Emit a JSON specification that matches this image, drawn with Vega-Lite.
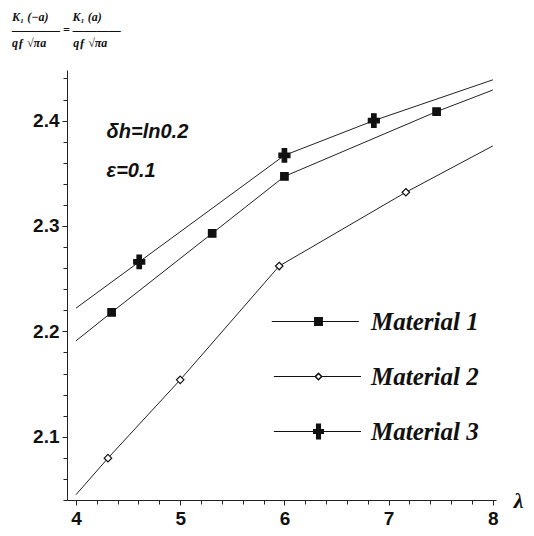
{
  "$schema": "https://vega.github.io/schema/vega-lite/v6.json",
  "width": 429,
  "height": 430,
  "autosize": {"type": "none"},
  "padding": {"left": 67, "top": 70, "right": 38, "bottom": 36},
  "background": "white",
  "config": {
    "view": {"stroke": null},
    "axis": {"grid": false, "domainColor": "#222", "tickColor": "#222", "labelColor": "#111", "labelFont": "Liberation Sans", "labelFontWeight": "bold", "labelFontSize": 19}
  },
  "title": {
    "text": ["\u00a0K\u2081 (\u2212a)\u00a0\u00a0\u00a0\u00a0\u00a0\u00a0\u00a0\u00a0K\u2081 (a)", "\u2014\u2014\u2014\u2014 = \u2014\u2014\u2014\u2014", "\u00a0\u00a0q\u0192 \u221a\u03c0a\u00a0\u00a0\u00a0\u00a0\u00a0\u00a0\u00a0\u00a0\u00a0q\u0192 \u221a\u03c0a"],
    "anchor": "start",
    "frame": "group",
    "align": "left",
    "dx": -55,
    "offset": 20,
    "font": "Liberation Serif",
    "fontSize": 12,
    "fontWeight": "bold",
    "fontStyle": "italic",
    "lineHeight": 13,
    "color": "#111"
  },
  "datasets": {
    "lines": [
      {"material": "Material 1", "lambda": 4.0, "k": 2.191},
      {"material": "Material 1", "lambda": 4.342, "k": 2.218},
      {"material": "Material 1", "lambda": 5.307, "k": 2.293},
      {"material": "Material 1", "lambda": 6.0, "k": 2.347},
      {"material": "Material 1", "lambda": 7.46, "k": 2.4085},
      {"material": "Material 1", "lambda": 8.0, "k": 2.429},
      {"material": "Material 2", "lambda": 4.0, "k": 2.045},
      {"material": "Material 2", "lambda": 4.307, "k": 2.0797},
      {"material": "Material 2", "lambda": 5.0, "k": 2.154},
      {"material": "Material 2", "lambda": 5.95, "k": 2.262},
      {"material": "Material 2", "lambda": 7.165, "k": 2.332},
      {"material": "Material 2", "lambda": 8.0, "k": 2.376},
      {"material": "Material 3", "lambda": 4.0, "k": 2.222},
      {"material": "Material 3", "lambda": 4.607, "k": 2.266},
      {"material": "Material 3", "lambda": 6.0, "k": 2.367},
      {"material": "Material 3", "lambda": 6.858, "k": 2.4},
      {"material": "Material 3", "lambda": 8.0, "k": 2.4387}
    ],
    "markers": [
      {"material": "Material 1", "lambda": 4.342, "k": 2.218},
      {"material": "Material 1", "lambda": 5.307, "k": 2.293},
      {"material": "Material 1", "lambda": 6.0, "k": 2.347},
      {"material": "Material 1", "lambda": 7.46, "k": 2.4085},
      {"material": "Material 2", "lambda": 4.307, "k": 2.0797},
      {"material": "Material 2", "lambda": 5.0, "k": 2.154},
      {"material": "Material 2", "lambda": 5.95, "k": 2.262},
      {"material": "Material 2", "lambda": 7.165, "k": 2.332},
      {"material": "Material 3", "lambda": 4.607, "k": 2.266},
      {"material": "Material 3", "lambda": 6.0, "k": 2.367},
      {"material": "Material 3", "lambda": 6.858, "k": 2.4}
    ],
    "notes": [
      {"label": "\u03b4h=ln0.2", "lambda": 4.294, "k": 2.3894},
      {"label": "\u03b5=0.1", "lambda": 4.294, "k": 2.352}
    ]
  },
  "layer": [
    {
      "data": {"name": "lines"},
      "mark": {"type": "line", "color": "#222", "strokeWidth": 1},
      "encoding": {
        "x": {"field": "lambda", "type": "quantitative", "scale": {"domain": [3.914, 8.03], "nice": false, "zero": false},
              "axis": {"orient": "bottom", "values": [4.2, 4.4, 4.6, 4.8, 5.2, 5.4, 5.6, 5.8, 6.2, 6.4, 6.6, 6.8, 7.2, 7.4, 7.6, 7.8], "labels": false, "tickSize": 4, "domain": true, "title": null}},
        "y": {"field": "k", "type": "quantitative", "scale": {"domain": [2.04, 2.448], "nice": false, "zero": false},
              "axis": {"orient": "left", "values": [2.04, 2.06, 2.08, 2.12, 2.14, 2.16, 2.18, 2.22, 2.24, 2.26, 2.28, 2.32, 2.34, 2.36, 2.38, 2.42, 2.44], "labels": false, "tickSize": 4, "domain": true, "title": null}},
        "detail": {"field": "material", "type": "nominal"}
      }
    },
    {
      "data": {"name": "markers"},
      "mark": {"type": "point", "filled": true, "stroke": "#111", "strokeWidth": 1.2, "opacity": 1, "size": 100},
      "encoding": {
        "x": {"field": "lambda", "type": "quantitative",
              "axis": {"orient": "bottom", "values": [4, 5, 6, 7, 8], "tickSize": 5, "labelPadding": 4, "domain": false, "title": "\u03bb", "titleX": 451, "titleY": 0, "titleBaseline": "middle", "titleAlign": "center", "titleFont": "Liberation Serif", "titleFontSize": 22, "titleFontStyle": "italic", "titleFontWeight": "bold", "titleColor": "#111"}},
        "y": {"field": "k", "type": "quantitative",
              "axis": {"orient": "left", "values": [2.1, 2.2, 2.3, 2.4], "format": ".1f", "tickSize": 5, "labelPadding": 3, "domain": false, "title": null}},
        "shape": {"field": "material", "type": "nominal",
                  "scale": {"domain": ["Material 1", "Material 2", "Material 3"],
                            "range": ["M-0.75,-0.75H0.75V0.75H-0.75Z", "M0,-0.75L0.75,0L0,0.75L-0.75,0Z", "M-0.45,-1.35H0.45V-0.45H1.1V0.45H0.45V1.35H-0.45V0.45H-1.1V-0.45H-0.45Z"]},
                  "legend": null},
        "fill": {"field": "material", "type": "nominal",
                 "scale": {"domain": ["Material 1", "Material 2", "Material 3"], "range": ["#111", "#ffffff", "#111"]},
                 "legend": null}
      }
    },
    {
      "data": {"name": "lines"},
      "mark": {"type": "point", "filled": true, "color": "#111", "opacity": 0},
      "encoding": {
        "x": {"field": "lambda", "type": "quantitative", "axis": null},
        "y": {"field": "k", "type": "quantitative", "axis": null},
        "shape": {"field": "material", "type": "nominal",
                  "scale": {"domain": ["Material 1", "Material 2", "Material 3"],
                            "range": ["M-2.2,-0.026H1.9V0.026H-2.2ZM-0.21,-0.21H0.21V0.21H-0.21Z", "M-2.1,-0.026H-0.17V0.026H-2.1ZM0.17,-0.026H2.0V0.026H0.17ZM0,-0.2L0.2,0L0,0.2L-0.2,0ZM0,-0.1L-0.1,0L0,0.1L0.1,0Z", "M-2.1,-0.026H2.0V0.026H-2.1ZM-0.12,-0.38H0.12V-0.12H0.26V0.12H0.12V0.38H-0.12V0.12H-0.26V-0.12H-0.12Z"]},
                  "legend": {"orient": "none", "legendX": 230, "legendY": 230, "title": null, "padding": 0, "symbolSize": 1806, "symbolOpacity": 1, "symbolFillColor": "#111", "symbolStrokeColor": "#111", "symbolStrokeWidth": 0, "labelOffset": 31, "rowPadding": 20, "labelFont": "Liberation Serif", "labelFontSize": 25, "labelFontStyle": "italic", "labelFontWeight": "bold", "labelColor": "#111", "labelBaseline": "middle", "labelLimit": 300,
                             "encode": {"symbols": {"update": {"fill": {"value": "#111"}, "opacity": {"value": 1}}}}}}
      }
    },
    {
      "data": {"name": "notes"},
      "mark": {"type": "text", "align": "left", "baseline": "middle", "font": "Liberation Sans", "fontSize": 20, "fontStyle": "italic", "fontWeight": "bold", "color": "#111"},
      "encoding": {
        "x": {"field": "lambda", "type": "quantitative", "axis": null},
        "y": {"field": "k", "type": "quantitative", "axis": null},
        "text": {"field": "label", "type": "nominal"}
      }
    }
  ],
  "resolve": {"scale": {"shape": "independent", "fill": "independent"}, "axis": {"x": "independent", "y": "independent"}}
}
